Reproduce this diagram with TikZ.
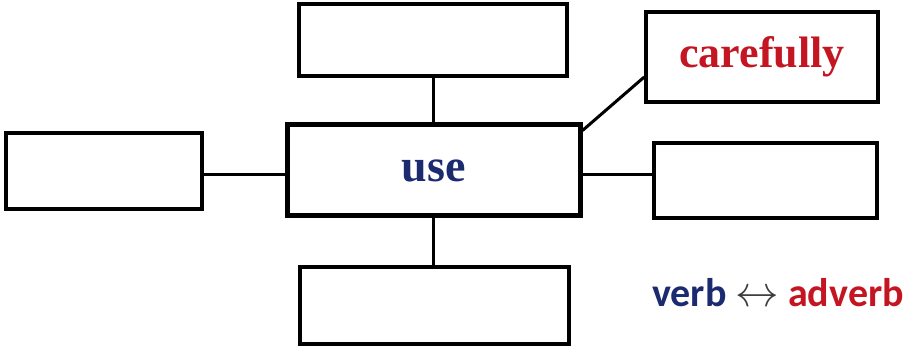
\documentclass[tikz,border=0pt]{standalone}
\usepackage{fontspec}
\setmainfont{Liberation Serif}
\newfontfamily\calib{Carlito}
\usepackage{graphicx}
\usepackage{tikz}
\definecolor{useblue}{RGB}{28,42,112}
\definecolor{advred}{RGB}{196,22,34}
\definecolor{arrgray}{RGB}{60,60,60}

\begin{document}
\begin{tikzpicture}[x=1pt,y=-1pt,line width=3pt,font=\bfseries]
\useasboundingbox (0,0) rectangle (909,347);
\node(top)[shape=rectangle,draw,line width=3.5pt,minimum width=268pt,minimum height=72pt] at (433,40){};
\node(use)[shape=rectangle,draw,line width=5pt,minimum width=293pt,minimum height=91pt,text=useblue,font=\bfseries\fontsize{46}{50}\selectfont] at (433.5,170.5){use};
\node(care)[shape=rectangle,draw,line width=3.5pt,minimum width=232pt,minimum height=90pt,text=advred,font=\bfseries\fontsize{44}{48}\selectfont] at (762,57){\raisebox{-4pt}{carefully}};
\node(right)[shape=rectangle,draw,line width=3.5pt,minimum width=223pt,minimum height=75pt] at (765.5,180.5){};
\node(left)[shape=rectangle,draw,line width=3.5pt,minimum width=196pt,minimum height=76pt] at (104,171){};
\node(bot)[shape=rectangle,draw,line width=3.5pt,minimum width=269pt,minimum height=77pt] at (434.5,305.5){};
\node(key)[font=\calib\bfseries\fontsize{40}{44}\selectfont] at (778,293){\textcolor{useblue}{verb} {\color{arrgray}\scalebox{1.75}{$\leftrightarrow$}} \textcolor{advred}{adverb}};
\draw (top.south)--(top.south|-use.north);
\draw (use.south)--(use.south|-bot.north);
\draw (left.east|-0,175)--(use.west|-0,175);
\draw (use.east|-0,175)--(right.west|-0,175);
\draw ([yshift=-8pt]use.north east)--([yshift=-20pt]care.west);
\end{tikzpicture}
\end{document}
